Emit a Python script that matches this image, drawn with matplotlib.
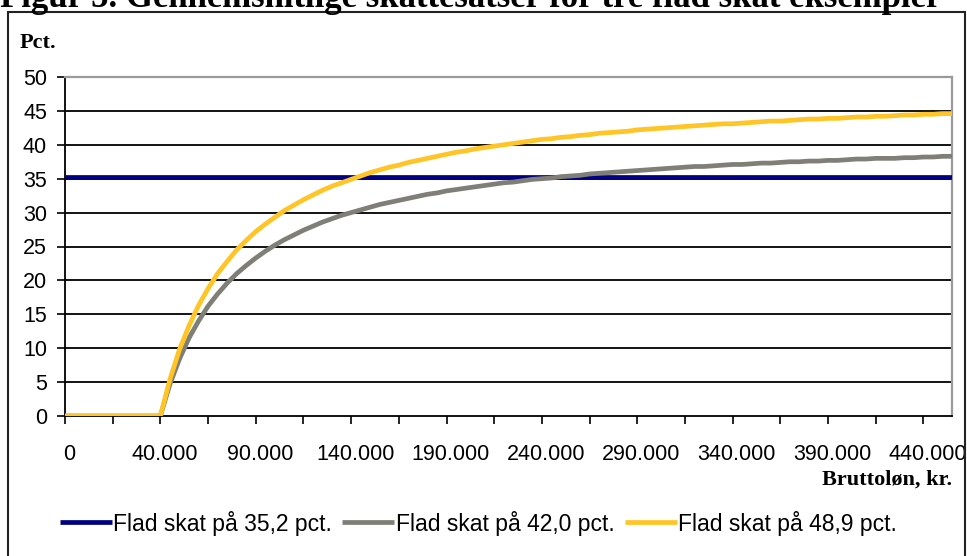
import matplotlib
matplotlib.use("Agg")
import matplotlib.pyplot as plt
import matplotlib.patches as mpatches
import matplotlib.transforms as mtransforms

plt.rcParams['font.family'] = ['Liberation Sans', 'DejaVu Sans']

# gross income categories, thousand kr. (category axis as in the original)
income_tkr = [
    0, 4, 8, 12, 16, 20, 24, 28, 32, 36,
    40, 45, 50, 55, 60, 65, 70, 75, 80, 85,
    90, 95, 100, 105, 110, 115, 120, 125, 130, 135,
    140, 145, 150, 155, 160, 165, 170, 175, 180, 185,
    190, 195, 200, 205, 210, 215, 220, 225, 230, 235,
    240, 245, 250, 255, 260, 265, 270, 275, 280, 285,
    290, 295, 300, 305, 310, 315, 320, 325, 330, 335,
    340, 345, 350, 355, 360, 365, 370, 375, 380, 385,
    390, 395, 400, 405, 410, 415, 420, 425, 430, 435,
    440, 445, 450, 455]

# average tax rate, pct.
flad_352 = [
    35.2, 35.2, 35.2, 35.2, 35.2, 35.2, 35.2, 35.2, 35.2, 35.2,
    35.2, 35.2, 35.2, 35.2, 35.2, 35.2, 35.2, 35.2, 35.2, 35.2,
    35.2, 35.2, 35.2, 35.2, 35.2, 35.2, 35.2, 35.2, 35.2, 35.2,
    35.2, 35.2, 35.2, 35.2, 35.2, 35.2, 35.2, 35.2, 35.2, 35.2,
    35.2, 35.2, 35.2, 35.2, 35.2, 35.2, 35.2, 35.2, 35.2, 35.2,
    35.2, 35.2, 35.2, 35.2, 35.2, 35.2, 35.2, 35.2, 35.2, 35.2,
    35.2, 35.2, 35.2, 35.2, 35.2, 35.2, 35.2, 35.2, 35.2, 35.2,
    35.2, 35.2, 35.2, 35.2, 35.2, 35.2, 35.2, 35.2, 35.2, 35.2,
    35.2, 35.2, 35.2, 35.2, 35.2, 35.2, 35.2, 35.2, 35.2, 35.2,
    35.2, 35.2, 35.2, 35.2]

flad_420 = [
    0.0, 0.0, 0.0, 0.0, 0.0, 0.0, 0.0, 0.0, 0.0, 0.0,
    0.0, 4.7, 8.4, 11.5, 14.0, 16.2, 18.0, 19.6, 21.0, 22.2,
    23.3, 24.3, 25.2, 26.0, 26.7, 27.4, 28.0, 28.6, 29.1, 29.6,
    30.0, 30.4, 30.8, 31.2, 31.5, 31.8, 32.1, 32.4, 32.7, 32.9,
    33.2, 33.4, 33.6, 33.8, 34.0, 34.2, 34.4, 34.5, 34.7, 34.9,
    35.0, 35.1, 35.3, 35.4, 35.5, 35.7, 35.8, 35.9, 36.0, 36.1,
    36.2, 36.3, 36.4, 36.5, 36.6, 36.7, 36.8, 36.8, 36.9, 37.0,
    37.1, 37.1, 37.2, 37.3, 37.3, 37.4, 37.5, 37.5, 37.6, 37.6,
    37.7, 37.7, 37.8, 37.9, 37.9, 38.0, 38.0, 38.0, 38.1, 38.1,
    38.2, 38.2, 38.3, 38.3]

flad_489 = [
    0.0, 0.0, 0.0, 0.0, 0.0, 0.0, 0.0, 0.0, 0.0, 0.0,
    0.0, 5.4, 9.8, 13.3, 16.3, 18.8, 21.0, 22.8, 24.5, 25.9,
    27.2, 28.3, 29.3, 30.3, 31.1, 31.9, 32.6, 33.3, 33.9, 34.4,
    34.9, 35.4, 35.9, 36.3, 36.7, 37.0, 37.4, 37.7, 38.0, 38.3,
    38.6, 38.9, 39.1, 39.4, 39.6, 39.8, 40.0, 40.2, 40.4, 40.6,
    40.8, 40.9, 41.1, 41.2, 41.4, 41.5, 41.7, 41.8, 41.9, 42.0,
    42.2, 42.3, 42.4, 42.5, 42.6, 42.7, 42.8, 42.9, 43.0, 43.1,
    43.1, 43.2, 43.3, 43.4, 43.5, 43.5, 43.6, 43.7, 43.8, 43.8,
    43.9, 43.9, 44.0, 44.1, 44.1, 44.2, 44.2, 44.3, 44.4, 44.4,
    44.5, 44.5, 44.6, 44.6]

series_labels = ['Flad skat på 35,2 pct.', 'Flad skat på 42,0 pct.', 'Flad skat på 48,9 pct.']
series_colors = ['#000080', '#7F7F78', '#FFC526']
yticks = [0, 5, 10, 15, 20, 25, 30, 35, 40, 45, 50]

W, H = 967, 556
fig = plt.figure(figsize=(W / 100, H / 100), dpi=100)
ax = fig.add_axes([65 / W, 1 - 416 / H, (952 - 65) / W, (416 - 77) / H])

pos = list(range(len(income_tkr)))
for vals, lab, col in zip([flad_352, flad_420, flad_489], series_labels, series_colors):
    ax.plot(pos, vals, color=col, lw=3.4, label=lab, solid_capstyle='butt', zorder=3)

# horizontal gridlines (inner only)
for y in yticks[1:-1]:
    ax.axhline(y, color='black', lw=1.3, zorder=1)

ax.set_xlim(0, len(income_tkr) - 1)
ax.set_ylim(0, 50)
ax.set_yticks(yticks)
ax.set_yticklabels([str(v) for v in yticks])

xt = pos[::5]
ax.set_xticks(xt)
xlabels = []
for i in xt:
    if i % 10 == 0:
        xlabels.append(f"{income_tkr[i] * 1000:,}".replace(',', '.'))
    else:
        xlabels.append('')
ax.set_xticklabels(xlabels)

ax.tick_params(axis='both', direction='out', length=6, width=1.2, colors='black', labelsize=15.5)
ax.tick_params(axis='y', pad=7)
ax.tick_params(axis='x', pad=14)
offset = mtransforms.ScaledTranslation(4 / 100, 0, fig.dpi_scale_trans)
for t in ax.get_xticklabels():
    t.set_transform(t.get_transform() + offset)

for side in ['top', 'right']:
    ax.spines[side].set_color('#9A9A9A')
    ax.spines[side].set_linewidth(1.6)
for side in ['left', 'bottom']:
    ax.spines[side].set_color('black')
    ax.spines[side].set_linewidth(1.3)

serif = ['Liberation Serif', 'DejaVu Serif']
fig.text(0.0, 1 - 7 / H, 'Figur 5. Gennemsnitlige skattesatser for tre flad skat eksempler',
         ha='left', va='baseline', fontsize=25, fontweight='bold', family=serif)
fig.text(20 / W, 1 - 43 / H, 'Pct.', ha='left', va='center', fontsize=16,
         fontweight='bold', family=serif)
fig.text(952 / W, 1 - 480 / H, 'Bruttoløn, kr.', ha='right', va='center', fontsize=16,
         fontweight='bold', family=serif)

ax.legend(loc='center left', bbox_to_anchor=(60 / W, 1 - 523 / H), bbox_transform=fig.transFigure,
          ncol=3, frameon=False, fontsize=16.5, handlelength=2.27, handletextpad=0.05,
          columnspacing=0.45, borderpad=0, borderaxespad=0)

# outer chart frame (bottom edge falls outside the picture)
frame = mpatches.Rectangle((8 / W, -0.05), (965 - 8) / W, 1.05 - 12 / H,
                           transform=fig.transFigure, fill=False, edgecolor='#222222',
                           lw=1.5, clip_on=False)
fig.patches.append(frame)

fig.savefig('out.png', dpi=100)
